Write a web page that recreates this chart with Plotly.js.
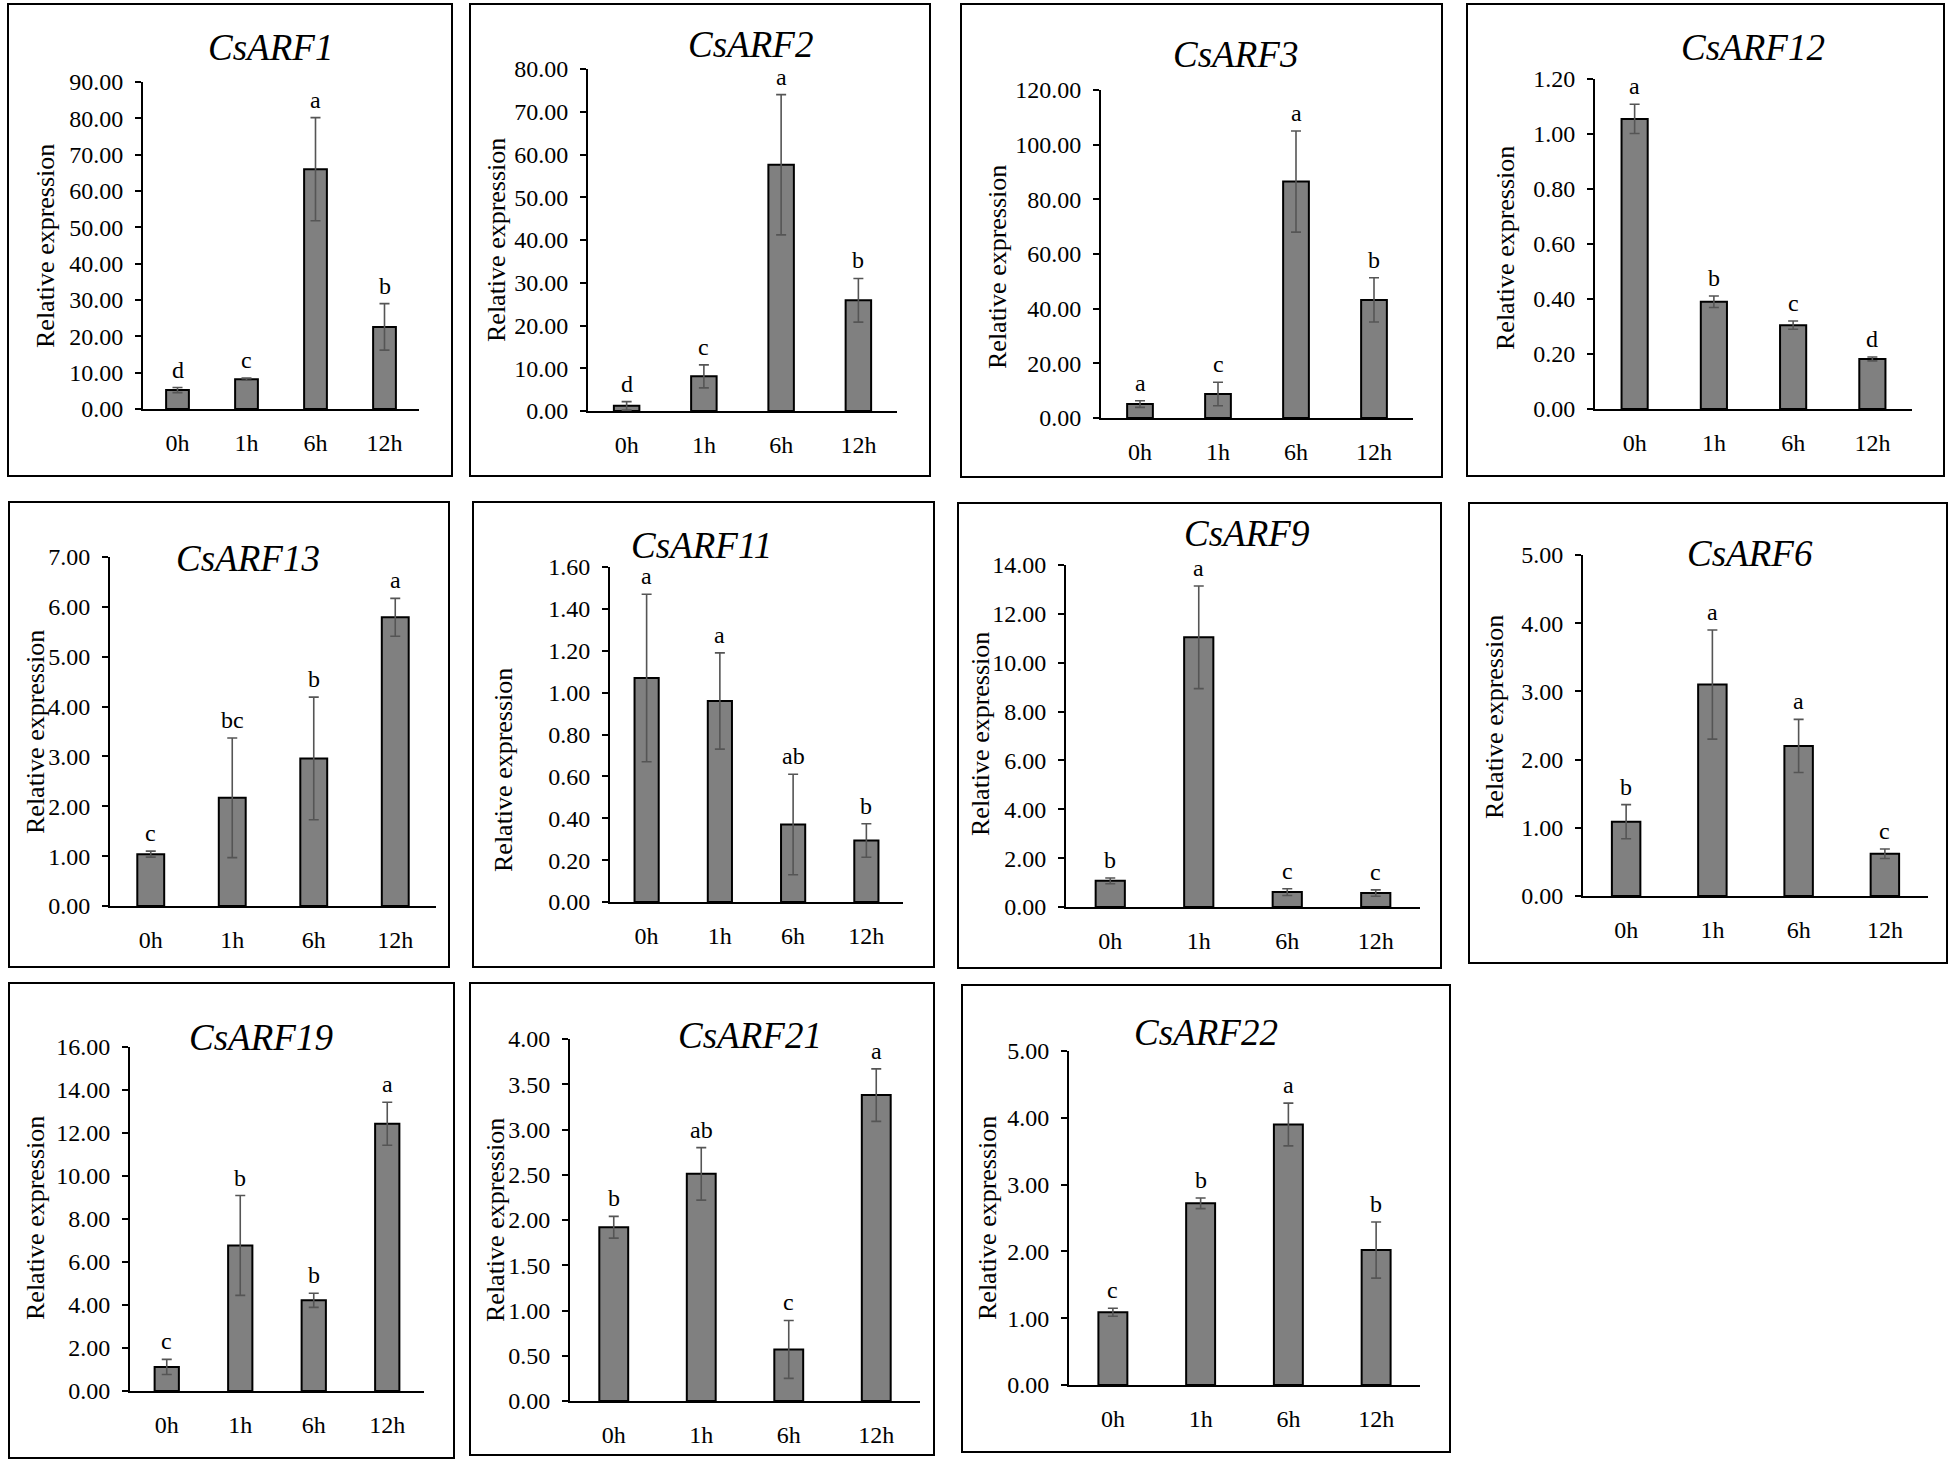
<!DOCTYPE html>
<html>
<head>
<meta charset="utf-8">
<script src="https://cdn.plot.ly/plotly-3.0.1.min.js"></script>
<style>
html,body{margin:0;padding:0;background:#fff;}
#chart{width:1949px;height:1461px;}
</style>
</head>
<body>
<div id="chart"></div>
<script>
// ---------------- DATA ----------------
const categories = ['0h', '1h', '6h', '12h'];
const genes = ['CsARF1', 'CsARF2', 'CsARF3', 'CsARF12', 'CsARF13', 'CsARF11', 'CsARF9', 'CsARF6', 'CsARF19', 'CsARF21', 'CsARF22'];

const arf1Mean = [5.2, 8.2, 66.0, 22.6];
const arf1Err = [0.7, 0.3, 14.2, 6.4];
const arf1Letters = ['d', 'c', 'a', 'b'];

const arf2Mean = [1.2, 8.1, 57.6, 25.9];
const arf2Err = [1.0, 2.7, 16.4, 5.1];
const arf2Letters = ['d', 'c', 'a', 'b'];

const arf3Mean = [5.1, 8.8, 86.5, 43.2];
const arf3Err = [1.2, 4.3, 18.5, 8.1];
const arf3Letters = ['a', 'c', 'a', 'b'];

const arf12Mean = [1.055, 0.39, 0.305, 0.182];
const arf12Err = [0.053, 0.021, 0.015, 0.007];
const arf12Letters = ['a', 'b', 'c', 'd'];

const arf13Mean = [1.04, 2.17, 2.96, 5.79];
const arf13Err = [0.06, 1.2, 1.23, 0.38];
const arf13Letters = ['c', 'bc', 'b', 'a'];

const arf11Mean = [1.07, 0.96, 0.37, 0.294];
const arf11Err = [0.40, 0.23, 0.24, 0.08];
const arf11Letters = ['a', 'a', 'ab', 'b'];

const arf9Mean = [1.07, 11.04, 0.61, 0.57];
const arf9Err = [0.12, 2.1, 0.14, 0.13];
const arf9Letters = ['b', 'a', 'c', 'c'];

const arf6Mean = [1.09, 3.10, 2.20, 0.62];
const arf6Err = [0.25, 0.80, 0.39, 0.07];
const arf6Letters = ['b', 'a', 'a', 'c'];

const arf19Mean = [1.12, 6.77, 4.22, 12.43];
const arf19Err = [0.35, 2.32, 0.33, 1.0];
const arf19Letters = ['c', 'b', 'b', 'a'];

const arf21Mean = [1.92, 2.51, 0.57, 3.38];
const arf21Err = [0.12, 0.29, 0.32, 0.29];
const arf21Letters = ['b', 'ab', 'c', 'a'];

const arf22Mean = [1.09, 2.72, 3.90, 2.02];
const arf22Err = [0.06, 0.08, 0.32, 0.42];
const arf22Letters = ['c', 'b', 'a', 'b'];

// y-axis tick ranges (max tick label and tick step)
const yMax = [90, 80, 120, 1.2, 7, 1.6, 14, 5, 16, 4, 5];
const yStep = [10, 10, 20, 0.2, 1, 0.2, 2, 1, 2, 0.5, 1];

const means = [arf1Mean, arf2Mean, arf3Mean, arf12Mean, arf13Mean, arf11Mean, arf9Mean, arf6Mean, arf19Mean, arf21Mean, arf22Mean];
const errs = [arf1Err, arf2Err, arf3Err, arf12Err, arf13Err, arf11Err, arf9Err, arf6Err, arf19Err, arf21Err, arf22Err];
const letters = [arf1Letters, arf2Letters, arf3Letters, arf12Letters, arf13Letters, arf11Letters, arf9Letters, arf6Letters, arf19Letters, arf21Letters, arf22Letters];

// ---------------- LAYOUT GEOMETRY (pixels) ----------------
const W = 1949, H = 1461;
// plot area: [left, right, top, bottom]
const plotRects = [
  [143, 419, 82, 409], [588, 897, 69, 411], [1101, 1413, 90, 418], [1595, 1912, 79, 409],
  [110, 436, 557, 906], [610, 903, 567, 902], [1066, 1420, 565, 907], [1583, 1928, 555, 896],
  [130, 424, 1047, 1391], [570, 920, 1039, 1401], [1069, 1420, 1051, 1385]
];
// panel frames: [left, right, top, bottom]
const frames = [
  [8, 452, 4, 476], [470, 930, 4, 476], [961, 1442, 4, 477], [1467, 1944, 4, 476],
  [9, 449, 502, 967], [473, 934, 502, 967], [958, 1441, 503, 968], [1469, 1947, 503, 963],
  [9, 454, 983, 1458], [470, 934, 983, 1455], [962, 1450, 985, 1452]
];
const titlePos = [
  [270, 47], [750, 45], [1235, 55], [1753, 47],
  [248, 558], [701, 545], [1246, 533], [1750, 553],
  [261, 1037], [750, 1035], [1206, 1032]
];
const ylabelPos = [
  [46, 246], [496, 240], [997, 267], [1505, 248],
  [35, 732], [503, 770], [980, 734], [1494, 717],
  [35, 1218], [495, 1220], [987, 1218]
];

const FONT = 'Liberation Serif, Times New Roman, serif';
const px = x => x / W;
const py = y => 1 - y / H;

const data = [];
const layout = {
  width: W, height: H,
  margin: {l: 0, r: 0, t: 0, b: 0},
  paper_bgcolor: '#fff', plot_bgcolor: 'rgba(0,0,0,0)',
  showlegend: false,
  bargap: 0.67,
  font: {family: FONT, color: '#000'},
  annotations: [],
  shapes: []
};

genes.forEach((g, i) => {
  const k = i + 1;
  const xa = 'x' + (k === 1 ? '' : k);
  const ya = 'y' + (k === 1 ? '' : k);
  const r = plotRects[i];
  data.push({
    type: 'bar',
    x: categories,
    y: means[i],
    xaxis: xa, yaxis: ya,
    marker: {color: '#808080', line: {color: '#000', width: 2}},
    error_y: {type: 'data', array: errs[i], visible: true, color: '#555', thickness: 1.6, width: 5},
    hoverinfo: 'skip'
  });
  layout['xaxis' + (k === 1 ? '' : k)] = {
    domain: [px(r[0]), px(r[1])],
    anchor: ya,
    type: 'category',
    range: [-0.5, 3.5],
    showline: true, linecolor: '#000', linewidth: 2,
    ticks: '', showgrid: false, zeroline: false,
    tickfont: {family: FONT, size: 24, color: '#000'},
    ticklabelstandoff: 11,
    fixedrange: true
  };
  layout['yaxis' + (k === 1 ? '' : k)] = {
    domain: [py(r[3]), py(r[2])],
    anchor: xa,
    range: [0, yMax[i]],
    tick0: 0, dtick: yStep[i], tickformat: '.2f',
    showline: true, linecolor: '#000', linewidth: 2,
    ticks: 'outside', ticklen: 6, tickwidth: 2, tickcolor: '#000',
    showgrid: false, zeroline: false,
    tickfont: {family: FONT, size: 24, color: '#000'},
    ticklabelstandoff: 7,
    fixedrange: true
  };
  // frame
  const f = frames[i];
  layout.shapes.push({
    type: 'rect', xref: 'paper', yref: 'paper',
    x0: px(f[0]), x1: px(f[1]), y0: py(f[3]), y1: py(f[2]),
    line: {color: '#000', width: 2}, fillcolor: 'rgba(0,0,0,0)'
  });
  // title
  layout.annotations.push({
    xref: 'paper', yref: 'paper', x: px(titlePos[i][0]), y: py(titlePos[i][1]),
    xanchor: 'center', yanchor: 'middle', showarrow: false,
    text: '<i>' + g + '</i>', font: {family: FONT, size: 37, color: '#000'}
  });
  // y label
  layout.annotations.push({
    xref: 'paper', yref: 'paper', x: px(ylabelPos[i][0]), y: py(ylabelPos[i][1]),
    xanchor: 'center', yanchor: 'middle', showarrow: false, textangle: -90,
    text: 'Relative expression', font: {family: FONT, size: 26, color: '#000'}
  });
  // significance letters
  categories.forEach((c, j) => {
    layout.annotations.push({
      xref: xa, yref: ya, x: c, y: means[i][j] + errs[i][j],
      xanchor: 'center', yanchor: 'bottom', yshift: 3, showarrow: false,
      text: letters[i][j], font: {family: FONT, size: 24, color: '#000'}
    });
  });
});

Plotly.newPlot('chart', data, layout, {staticPlot: true, displayModeBar: false});
</script>
</body>
</html>
